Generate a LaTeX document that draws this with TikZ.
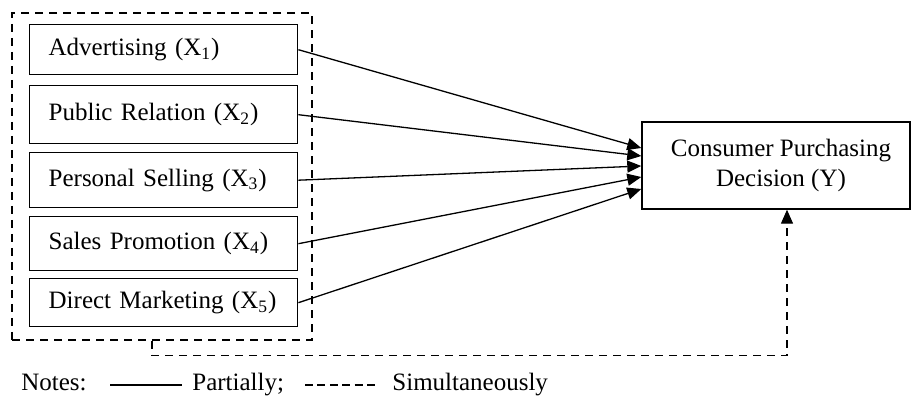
\documentclass[tikz,border=0pt]{standalone}
\usepackage{fontspec}
\setmainfont{Liberation Serif}
\usetikzlibrary{arrows.meta,calc}
\begin{document}
\begin{tikzpicture}[x=0.5pt,y=-0.5pt,
  font=\fontsize{12.5}{15}\selectfont,
  varbox/.style={draw,line width=0.7pt,minimum width=134pt,text width=115pt,
    inner xsep=9.5pt,inner ysep=0pt,align=left,anchor=north west},
  groupbox/.style={draw,dash pattern=on 4pt off 3pt,line width=0.65pt,
    minimum width=150pt,minimum height=163.5pt,inner sep=0pt},
  depbox/.style={draw,line width=0.7pt,minimum width=134pt,minimum height=43.5pt,
    align=center,inner sep=0pt},
  partial/.style={line width=0.65pt,-{Triangle[length=7pt,width=6pt]}},
  simult/.style={line width=0.65pt,dash pattern=on 4pt off 3pt,-{Triangle[length=7pt,width=6pt]}},
  legendtext/.style={inner sep=0pt,anchor=base west}]
\useasboundingbox (0,0) rectangle (911,405);

% grouped independent variables
\node[groupbox] (grp) at (162,176.5) {};
\node[varbox,minimum height=25pt] (x1) at (29,24)  {Advertising (X\textsubscript{1})};
\node[varbox,minimum height=29pt] (x2) at (29,85)  {Public Relation (X\textsubscript{2})};
\node[varbox,minimum height=27.5pt] (x3) at (29,152) {Personal Selling (X\textsubscript{3})};
\node[varbox,minimum height=27pt] (x4) at (29,216) {Sales Promotion (X\textsubscript{4})};
\node[varbox,minimum height=24pt] (x5) at (29,278) {Direct Marketing (X\textsubscript{5})};

% dependent variable
\node[depbox] (y) at (776,165.5) {\hspace*{5pt}Consumer Purchasing\\\hspace*{5pt}Decision (Y)};

% partial effects
\draw[partial] (x1.east) -- ($(y.west)+(0,-17.5)$);
\draw[partial] (x2.east) -- ($(y.west)+(0,-9.5)$);
\draw[partial] (x3.east) -- ($(y.west)+(0,0.5)$);
\draw[partial] (x4.east) -- ($(y.west)+(0,11.5)$);
\draw[partial] (x5.east) -- ($(y.west)+(0,23.5)$);

% simultaneous effect
\coordinate (gs) at ($(grp.south)+(-10,0)$);
\coordinate (ys) at ($(y.south)+(11,0)$);
\draw[simult] (gs) -- ++(0,15) -| (ys);

% legend
\node[legendtext] (notes) at (21,391) {Notes:};
\coordinate (s1) at (110,385);
\coordinate (s2) at (182,385);
\draw[line width=0.65pt] (s1) -- (s2);
\node[legendtext] (part) at (192,391) {Partially;};
\coordinate (d1) at (305,385);
\coordinate (d2) at (375,385);
\draw[line width=0.65pt,dash pattern=on 4pt off 2.2pt] (d1) -- (d2);
\node[legendtext] (sim) at (392,391) {Simultaneously};
\end{tikzpicture}
\end{document}
